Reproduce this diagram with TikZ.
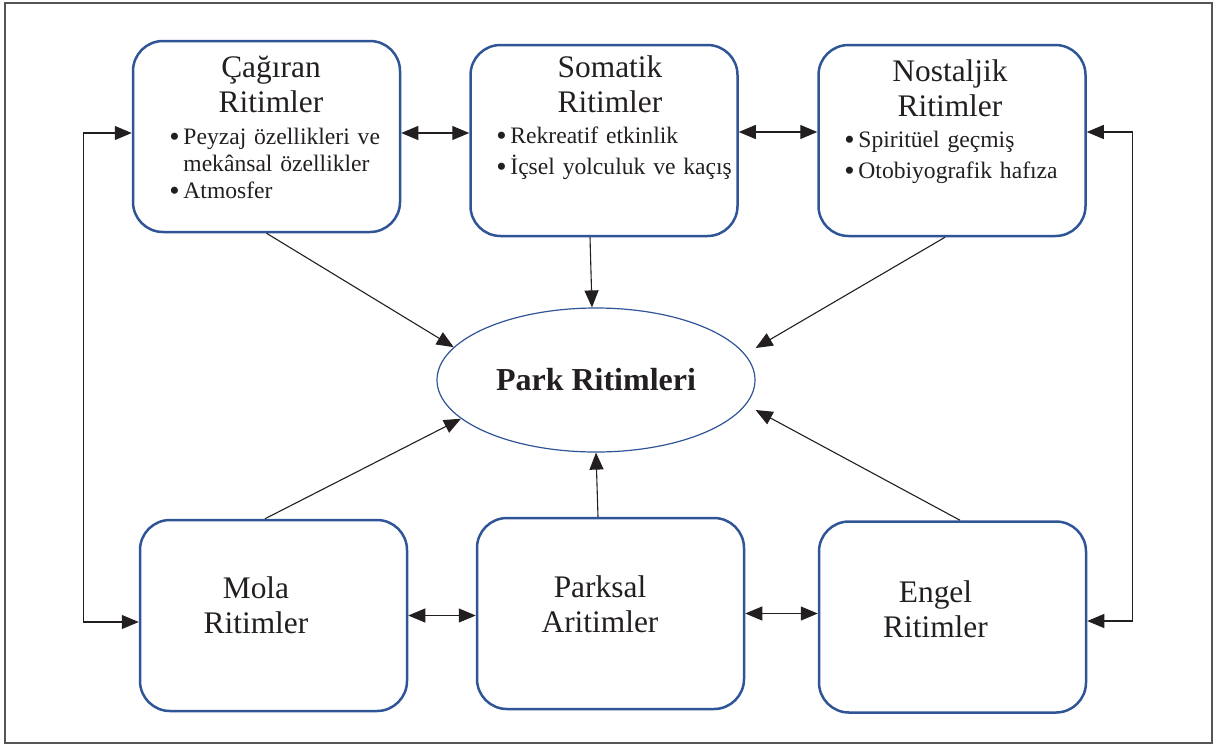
\documentclass[tikz,border=0pt]{standalone}
\usepackage{fontspec}
\setmainfont{Liberation Serif}
\usepackage{xcolor}
\usepackage{graphicx}
\usetikzlibrary{arrows.meta}
\usetikzlibrary{shapes.geometric}
\definecolor{boxblue}{HTML}{2F5597}
\definecolor{ink}{HTML}{231F20}
\definecolor{framegray}{HTML}{555555}
\newcommand{\itembul}{\makebox[6.5pt][l]{\hspace{-0.5pt}\raisebox{-1pt}{\scalebox{1.25}{\textbullet}}}}
\begin{document}
\begin{tikzpicture}[x=0.5pt,y=-0.5pt,
        >={Triangle[length=8.5pt,width=7pt]},
        box/.style={draw=boxblue, line width=1.25pt, rounded corners=15pt, minimum width=133.5pt, minimum height=95.5pt, inner sep=0pt},
        ttl/.style={text=ink, inner sep=0pt, anchor=base, text width=140pt, align=center, font=\fontsize{15.7}{17.5}\selectfont},
        lst/.style={text=ink, inner sep=0pt, anchor=base west, text width=120pt, align=left, font=\fontsize{11.8}{15.6}\selectfont},
        arr/.style={ink, line width=0.55pt, ->},
        darr/.style={ink, line width=0.55pt, <->}]
        \useasboundingbox (0,0) rectangle (1215,745);
        \draw[framegray, line width=0.8pt] (5,3) rectangle (1212,743);

        \node[box] (cag) at (266.5,136.5) {};
        \node[box] (som) at (604,140.5) {};
        \node[box] (nos) at (952,140.5) {};
        \node[box] (mola) at (273.5,615.5) {};
        \node[box] (parks) at (610.5,613.5) {};
        \node[box] (engel) at (952.5,617) {};
        \node[draw=boxblue, line width=0.6pt, ellipse, minimum width=159pt, minimum height=72pt, inner sep=0pt, text=ink, font=\fontsize{16}{19}\selectfont\bfseries] (park) at (596,380) {Park Ritimleri};

        \node[ttl] (cagttl) at (271,77) {Çağıran\\Ritimler};
        \node[lst, font=\fontsize{11.8}{13.5}\selectfont] (caglst) at (170,144) {\itembul Peyzaj özellikleri ve\\\hspace*{6.5pt}mekânsal özellikler\\\itembul Atmosfer};
        \node[ttl] (somttl) at (610,77) {Somatik\\Ritimler};
        \node[lst] (somlst) at (497,143) {\itembul Rekreatif etkinlik\\\itembul İçsel yolculuk ve kaçış};
        \node[ttl] (nosttl) at (950,81) {Nostaljik\\Ritimler};
        \node[lst] (noslst) at (845,147) {\itembul Spiritüel geçmiş\\\itembul Otobiyografik hafıza};
        \node[ttl] (molattl) at (256,598) {Mola\\Ritimler};
        \node[ttl] (parksttl) at (600,597) {Parksal\\Aritimler};
        \node[ttl] (engelttl) at (935.5,602) {Engel\\Ritimler};

        \draw[darr] ([yshift=1.75pt]cag.east) -- ([yshift=1.75pt]cag.east -| som.west);
        \draw[darr] ([yshift=4.25pt]som.east) -- ([yshift=4.25pt]som.east -| nos.west);
        \draw[darr] (mola.east) -- (mola.east -| parks.west);
        \draw[darr] (parks.east) -- (parks.east -| engel.west);
        \draw[darr] ([yshift=1.75pt]cag.west) -- ++(-24pt,0) |- ([yshift=-3.25pt]mola.west);
        \draw[darr] ([yshift=4.25pt]nos.east) -- ++(23pt,0) |- ([yshift=-2pt]engel.east);

        \draw[arr] (cag.south) -- (park.167);
        \draw[arr] ([xshift=-7pt]som.south) -- ([xshift=-2pt]park.north);
        \draw[arr] ([xshift=-3.5pt]nos.south) -- ([yshift=16pt]park.east);
        \draw[arr] ([xshift=-4.25pt]mola.north) -- (park.196);
        \draw[arr] ([xshift=-6.25pt]parks.north) -- (park.south);
        \draw[arr] ([xshift=3.75pt]engel.north) -- ([yshift=-15pt]park.east);
\end{tikzpicture}
\end{document}
